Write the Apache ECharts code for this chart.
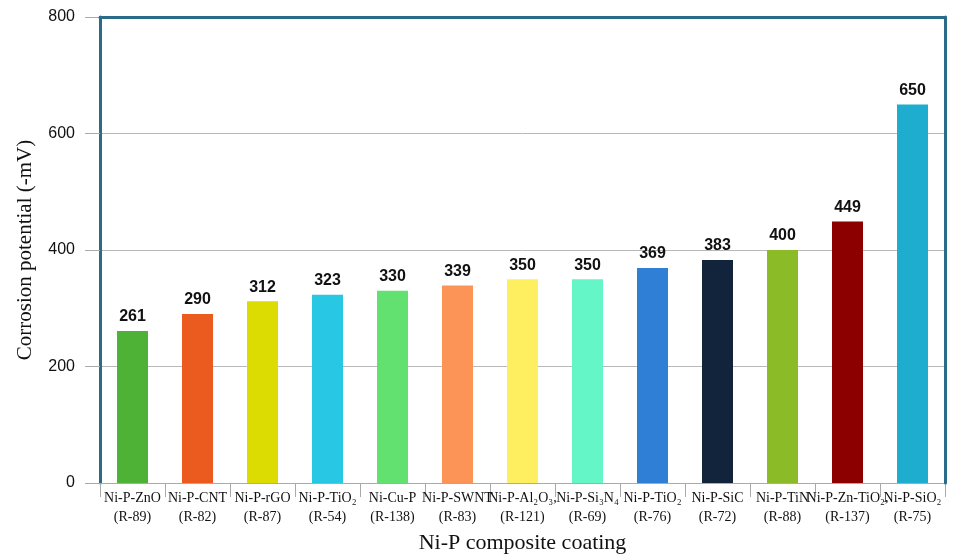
<!DOCTYPE html>
<html><head><meta charset="utf-8">
<script src="https://cdn.jsdelivr.net/npm/echarts@6/dist/echarts.min.js"></script>
<style>html,body{margin:0;padding:0;background:#fff}#c{width:963px;height:554px}</style>
</head><body><div id="c"></div>
<script>
const categories = [
  "Ni-P-ZnO\n(R-89)", "Ni-P-CNT\n(R-82)", "Ni-P-rGO\n(R-87)", "Ni-P-TiO₂\n(R-54)",
  "Ni-Cu-P\n(R-138)", "Ni-P-SWNT\n(R-83)", "Ni-P-Al₂O₃,\n(R-121)", "Ni-P-Si₃N₄\n(R-69)",
  "Ni-P-TiO₂\n(R-76)", "Ni-P-SiC\n(R-72)", "Ni-P-TiN\n(R-88)", "Ni-P-Zn-TiO₂,\n(R-137)", "Ni-P-SiO₂\n(R-75)"
];
const values = [261, 290, 312, 323, 330, 339, 350, 350, 369, 383, 400, 449, 650];
const colors = ["#4db236", "#eb5a1f", "#dcdc02", "#28c8e4", "#62e070", "#fc9458", "#fdef60",
  "#64f6c6", "#2f7fd6", "#11243c", "#8cbb28", "#8c0000", "#1eadce"];
const yTicks = [0, 200, 400, 600, 800];
const frameColor = '#2c6a8a';

const chart = echarts.init(document.getElementById('c'));
chart.setOption({
  animation: false,
  grid: { left: 100, right: 18, top: 17, bottom: 71, outerBoundsMode: 'none', containLabel: false },
  xAxis: [{
    type: 'category', data: categories,
    name: 'Ni-P composite coating', nameLocation: 'middle', nameGap: 49,
    nameTextStyle: { fontFamily: 'Liberation Serif', fontSize: 22, color: '#111' },
    axisLine: { show: true, onZero: false, lineStyle: { color: '#aaa', width: 1 } },
    axisTick: { show: true, length: 14, lineStyle: { color: '#aaa' } },
    axisLabel: { interval: 0, fontFamily: 'Liberation Serif', fontSize: 14, color: '#111', margin: 6, lineHeight: 19 },
    z: 5
  }, {
    type: 'category', data: categories, position: 'top', z: 10,
    axisLine: { show: true, onZero: false, lineStyle: { color: frameColor, width: 3 } },
    axisTick: { show: false }, axisLabel: { show: false }
  }],
  yAxis: [{
    type: 'value', min: yTicks[0], max: yTicks[yTicks.length - 1], interval: 200,
    name: 'Corrosion potential (-mV)', nameLocation: 'middle', nameGap: 64,
    nameTextStyle: { fontFamily: 'Liberation Serif', fontSize: 21, color: '#111' },
    axisLine: { show: true, lineStyle: { color: frameColor, width: 3 } },
    axisTick: { show: true, length: 15, lineStyle: { color: '#aaa' } },
    axisLabel: { fontFamily: 'Liberation Sans', fontSize: 16, color: '#111', margin: 25 },
    splitLine: { show: true, lineStyle: { color: '#b8b8b8', width: 1 } }
  }, {
    type: 'value', position: 'right', min: yTicks[0], max: yTicks[yTicks.length - 1], interval: 200, z: 10,
    axisLine: { show: true, lineStyle: { color: frameColor, width: 3 } },
    axisTick: { show: false }, axisLabel: { show: false }, splitLine: { show: false }
  }],
  series: [{
    type: 'bar', barWidth: 31,
    data: values.map((v, i) => ({ value: v, itemStyle: { color: colors[i] } })),
    label: { show: true, position: 'top', distance: 6, fontFamily: 'Liberation Sans', fontWeight: 'bold', fontSize: 16, color: '#111' }
  }]
});
</script></body></html>
